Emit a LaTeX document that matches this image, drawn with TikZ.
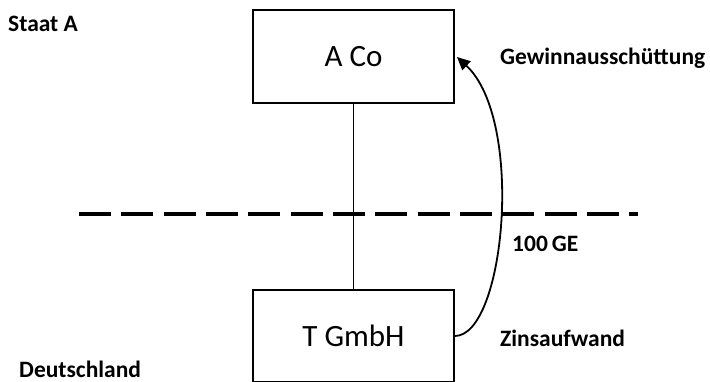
\documentclass[tikz,border=0pt]{standalone}
\usepackage{fontspec}
\setmainfont{Carlito}
\usetikzlibrary{arrows.meta}
\begin{document}
\begin{tikzpicture}[x=1pt,y=-1pt,>={Triangle[length=13pt,width=12pt]},
  box/.style={draw,line width=1.7pt,minimum width=201pt,minimum height=93pt,inner sep=0pt,font=\fontsize{31}{36}\selectfont},
  lbl/.style={anchor=base west,inner sep=0pt,font=\fontsize{23.5}{28}\selectfont\bfseries}]
\useasboundingbox (0,0) rectangle (710,382);
\node[box] (A) at (353.5,56.5) {A Co};
\node[box,minimum height=92pt] (T) at (353.5,336) {T GmbH};
\node[lbl] (staat) at (8,32) {Staat A};
\node[lbl] (de) at (19,377) {Deutschland};
\node[lbl] (gew) at (500,65) {Gewinnausschüttung};
\node[lbl] (ge) at (512,252) {100\,GE};
\node[lbl] (zins) at (500,346) {Zinsaufwand};
\coordinate (bl) at (79,214);
\coordinate (br) at (638,214);
\coordinate (tip) at (457,57);
\draw[line width=4.3pt,dash pattern=on 32pt off 10.33pt] (bl) -- (br);
\draw[line width=1pt] (A) -- (T);
\draw[->,line width=1.8pt] (T.east) .. controls (505,336) and (525,120) .. (tip);
\end{tikzpicture}
\end{document}
